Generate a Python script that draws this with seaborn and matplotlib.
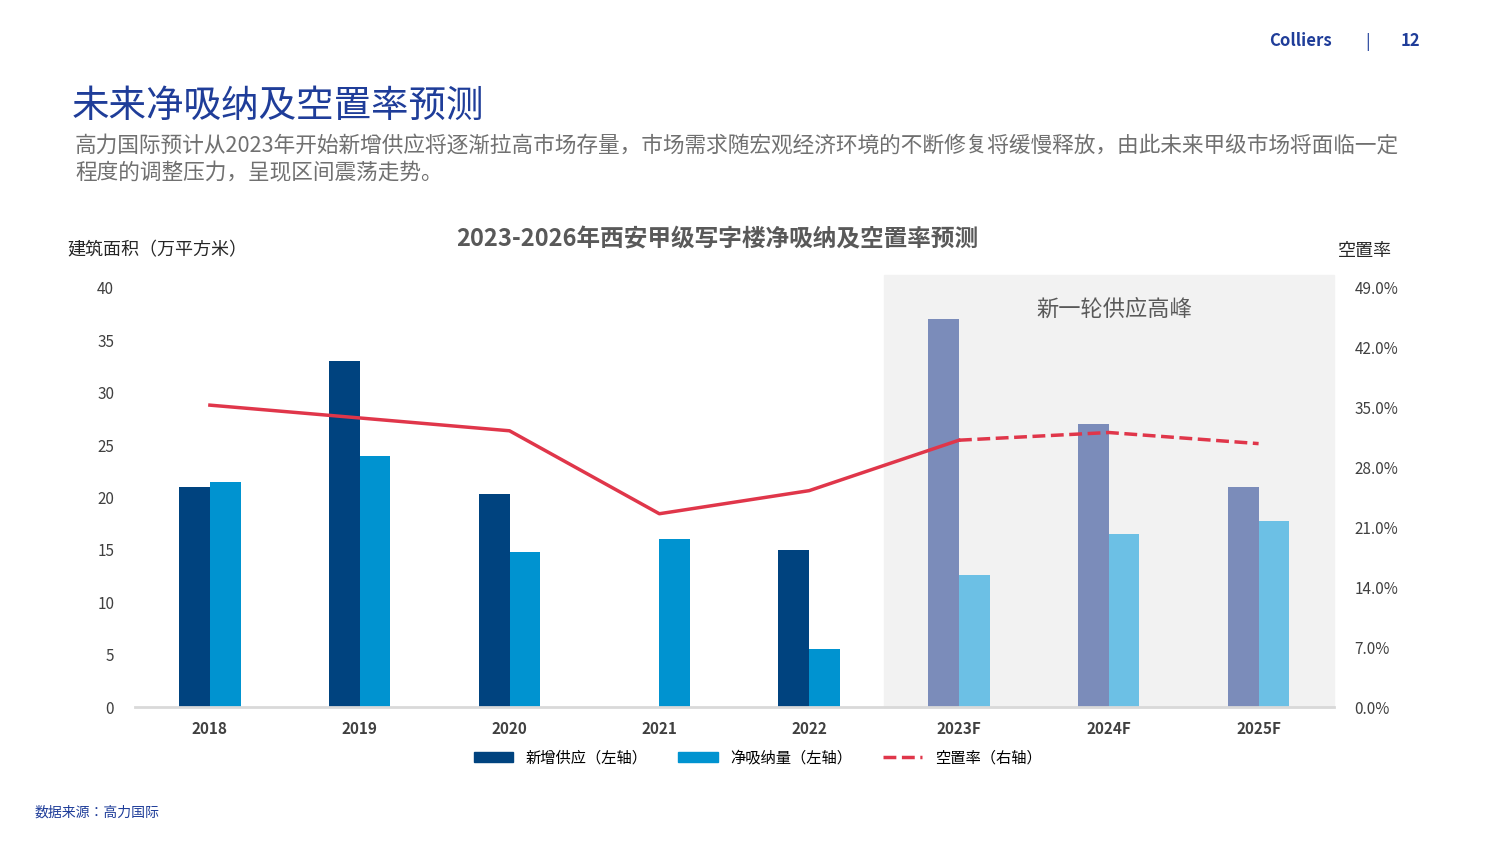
import matplotlib
matplotlib.use("Agg")
import matplotlib.pyplot as plt
from matplotlib import font_manager
import seaborn as sns
import pandas as pd
from matplotlib.lines import Line2D
from matplotlib.patches import Patch

cjk = [f.name for f in font_manager.fontManager.ttflist if "CJK" in f.name]
plt.rcParams["font.family"] = "sans-serif"
plt.rcParams["font.sans-serif"] = sorted(set(cjk)) + ["DejaVu Sans"]

years = ["2018", "2019", "2020", "2021", "2022", "2023F", "2024F", "2025F"]
new_supply = [21.0, 33.0, 20.3, 0.0, 15.0, 37.0, 27.0, 21.0]
net_absorption = [21.5, 24.0, 14.8, 16.0, 5.5, 12.6, 16.5, 17.8]
vacancy = [35.3, 33.8, 32.3, 22.6, 25.3, 31.2, 32.1, 30.8]
n_actual = 5

df = pd.DataFrame({
    "year": years * 2,
    "value": new_supply + net_absorption,
    "series": ["新增供应"] * len(years) + ["净吸纳量"] * len(years),
})

fig = plt.figure(figsize=(15, 8.44), dpi=100)
ax = fig.add_axes([0.09, 0.1623, 0.799, 0.4965])

sns.barplot(data=df, x="year", y="value", hue="series", ax=ax, width=0.41,
            palette=["#00437f", "#0093d0"], legend=False, saturation=1, zorder=2)
c_dark_f, c_light_f = "#7b8cba", "#6cc0e5"
bars = ax.patches
for i in range(n_actual, len(years)):
    bars[i].set_facecolor(c_dark_f)
    bars[len(years) + i].set_facecolor(c_light_f)

# shaded forecast region
ax.axvspan(4.5, 7.5, ymin=0, ymax=1.03, color="#f2f2f2", zorder=0, clip_on=False)

ax.set_ylim(0, 40)
ax.set_xlim(-0.5, len(years) - 0.5)
ax.set_yticks(range(0, 41, 5))
ax.set_xlabel("")
ax.set_ylabel("")
for s in ["top", "right", "left"]:
    ax.spines[s].set_visible(False)
ax.spines["bottom"].set_color("#d9d9d9")
ax.spines["bottom"].set_linewidth(2)
ax.tick_params(axis="y", length=0, labelsize=11, colors="#404040", pad=15)
ax.tick_params(axis="x", length=0, labelsize=11, pad=10)
for t in ax.get_xticklabels():
    t.set_fontweight("bold")
    t.set_color("#404040")

ax2 = ax.twinx()
x = list(range(len(years)))
ax2.plot(x[:6], vacancy[:6], color="#e0364a", lw=2.5)
ax2.plot(x[5:], vacancy[5:], color="#e0364a", lw=2.5, ls="--")
ax2.set_ylim(0, 49)
ax2.set_yticks([0, 7, 14, 21, 28, 35, 42, 49])
ax2.set_yticklabels([f"{v:.1f}%" for v in [0, 7, 14, 21, 28, 35, 42, 49]])
for s in ["top", "right", "left", "bottom"]:
    ax2.spines[s].set_visible(False)
ax2.tick_params(axis="y", length=0, labelsize=11, colors="#404040", pad=15)

fig.text(0.048, 0.862, "未来净吸纳及空置率预测", fontsize=27, color="#1f3d99")
fig.text(0.05, 0.82, "高力国际预计从2023年开始新增供应将逐渐拉高市场存量，市场需求随宏观经济环境的不断修复将缓慢释放，由此未来甲级市场将面临一定",
         fontsize=15.6, color="#707070")
fig.text(0.05, 0.788, "程度的调整压力，呈现区间震荡走势。", fontsize=15.6, color="#707070")
fig.text(0.867, 0.945, "Colliers", fontsize=12, color="#1f3d99", fontweight="bold", ha="center")
fig.text(0.912, 0.945, "|", fontsize=12, color="#1f3d99", ha="center")
fig.text(0.94, 0.945, "12", fontsize=12, color="#1f3d99", fontweight="bold", ha="center")
fig.text(0.478, 0.708, "2023-2026年西安甲级写字楼净吸纳及空置率预测", fontsize=17, color="#595959",
         fontweight="bold", ha="center")
fig.text(0.045, 0.697, "建筑面积（万平方米）", fontsize=13, color="#262626")
fig.text(0.91, 0.697, "空置率", fontsize=13, color="#262626", ha="center")
fig.text(0.743, 0.626, "新一轮供应高峰", fontsize=16, color="#595959", ha="center")
fig.text(0.023, 0.033, "数据来源：高力国际", fontsize=10, color="#1f3d99", style="italic")

handles = [Patch(color="#00437f"), Patch(color="#0093d0"),
           Line2D([], [], color="#e0364a", lw=2.5, ls="--")]
fig.legend(handles, ["新增供应（左轴）", "净吸纳量（左轴）", "空置率（右轴）"], loc="center",
           bbox_to_anchor=(0.505, 0.102), ncol=3, frameon=False, fontsize=11,
           handlelength=2.6, handleheight=0.6, columnspacing=2)

fig.savefig("out.png", dpi=100)
